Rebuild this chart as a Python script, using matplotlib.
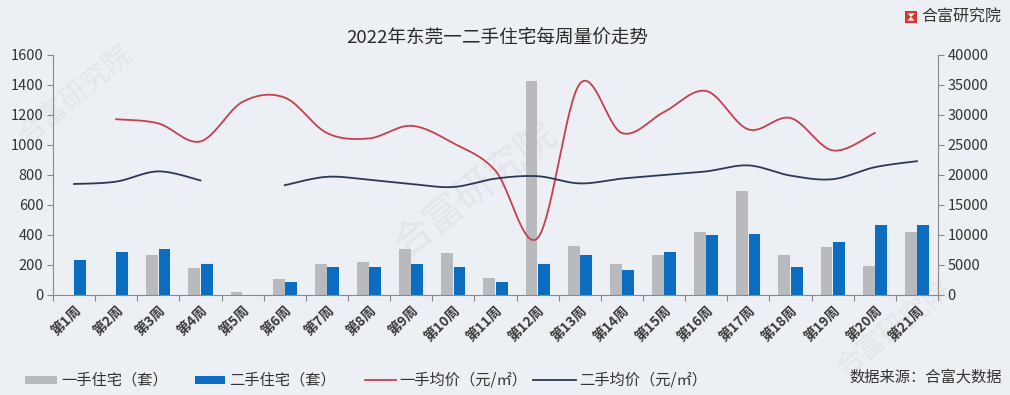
import numpy as np
import matplotlib
matplotlib.use("Agg")
import matplotlib.pyplot as plt
from matplotlib.patches import Rectangle, Polygon
from matplotlib.lines import Line2D

plt.rcParams['font.family'] = ['Noto Sans CJK SC', 'DejaVu Sans']

weeks = [f"第{i}周" for i in range(1, 22)]
new_units = [0, 0, 270, 180, 20, 105, 205, 220, 305, 280, 115, 1430, 330, 210, 265, 420, 695, 265, 320, 195, 420]
resale_units = [235, 290, 305, 210, 0, 85, 185, 185, 210, 185, 85, 205, 265, 170, 290, 400, 405, 185, 355, 470, 470]
new_price = [np.nan, 29300, 28600, 25600, 32200, 32900, 27000, 26100, 28200, 25300, 20700, 9500, 35200, 27000, 30500, 34000, 27600, 29500, 24100, 27000, np.nan]
resale_price = [18500, 18900, 20600, 19100, np.nan, 18300, 19700, 19200, 18500, 18000, 19400, 19800, 18600, 19400, 20000, 20600, 21600, 19900, 19300, 21300, 22300]

BG = '#eceff3'
GRAY = '#b9babe'
BLUE = '#0b6dbf'
RED = '#c4404f'
NAVY = '#2b3956'


def smooth_segments(xs, ys, n=30):
    """Excel-style smoothed line (Catmull-Rom) drawn per contiguous segment."""
    xs = np.asarray(xs, float)
    ys = np.asarray(ys, float)
    segs = []
    cur = []
    for x, y in zip(xs, ys):
        if np.isnan(y):
            if cur:
                segs.append(cur)
            cur = []
        else:
            cur.append((x, y))
    if cur:
        segs.append(cur)
    out = []
    for seg in segs:
        p = np.array(seg)
        if len(p) < 2:
            out.append((p[:, 0], p[:, 1]))
            continue
        ext = np.vstack([p[0], p, p[-1]])
        X, Y = [], []
        for i in range(1, len(ext) - 2):
            p0, p1, p2, p3 = ext[i - 1], ext[i], ext[i + 1], ext[i + 2]
            t = np.linspace(0, 1, n)[:, None]
            c1 = p1 + (p2 - p0) / 6
            c2 = p2 - (p3 - p1) / 6
            b = ((1 - t) ** 3) * p1 + 3 * ((1 - t) ** 2) * t * c1 + 3 * (1 - t) * t ** 2 * c2 + t ** 3 * p2
            X.extend(b[:, 0])
            Y.extend(b[:, 1])
        out.append((np.array(X), np.array(Y)))
    return out


fig = plt.figure(figsize=(10.10, 3.95), dpi=100, facecolor=BG)

# faint watermarks (behind the axes)
for (x, y, s, r) in [(0.075, 0.76, 20, 40), (0.47, 0.52, 28, 38), (0.885, 0.17, 20, 38)]:
    fig.text(x, y, "合富研究院", fontsize=s, color='#e2e5ea', rotation=r,
             ha='center', va='center', zorder=-5)

ax = fig.add_axes([53 / 1010, 1 - 295 / 395, 885 / 1010, 240 / 395])
ax.set_facecolor('none')
x = np.arange(len(weeks))
w = 0.28
ax.bar(x - 0.145, new_units, width=w, color=GRAY, zorder=2)
ax.bar(x + 0.145, resale_units, width=w, color=BLUE, zorder=2)
ax.set_ylim(0, 1600)
ax.set_yticks(range(0, 1601, 200))
ax.set_xlim(-0.5, len(weeks) - 0.5)
ax.set_xticks(np.arange(-0.5, len(weeks), 1.0))
ax.set_xticklabels([])
ax.set_xticks(x, minor=True)
ax.set_xticklabels(weeks, minor=True, rotation=45, ha='right', va='top',
                   rotation_mode='anchor', fontsize=10, fontweight='bold', color='#3a3a3a')
ax.tick_params(axis='x', which='major', length=4, color='#888888', direction='out')
ax.tick_params(axis='x', which='minor', length=0, pad=6)
ax.tick_params(axis='y', length=4, color='#888888', labelsize=10.5, labelcolor='#333333', pad=3)
for s in ['top', 'right']:
    ax.spines[s].set_visible(False)
for s in ['left', 'bottom']:
    ax.spines[s].set_color('#8a8a8a')

ax2 = ax.twinx()
ax2.set_ylim(0, 40000)
ax2.set_yticks(range(0, 40001, 5000))
ax2.tick_params(axis='y', length=4, color='#888888', labelsize=10.5, labelcolor='#333333', pad=3)
for s in ['top', 'left', 'bottom']:
    ax2.spines[s].set_visible(False)
ax2.spines['right'].set_color('#8a8a8a')
for xs, ys in smooth_segments(x, new_price):
    ax2.plot(xs, ys, color=RED, lw=1.3, zorder=3)
for xs, ys in smooth_segments(x, resale_price):
    ax2.plot(xs, ys, color=NAVY, lw=1.3, zorder=3)

# title
fig.text(497 / 1010, 1 - 38 / 395, "2022年东莞一二手住宅每周量价走势", fontsize=13.4,
         color='#2a2a2a', ha='center', va='center')

# logo
lx, ly, ls = 905 / 1010, 1 - 23 / 395, 12
lw_, lh_ = ls / 1010, ls / 395
fig.patches.append(Rectangle((lx, ly), lw_, lh_, transform=fig.transFigure,
                             facecolor='#d8352f', edgecolor='none'))
fig.patches.append(Polygon([(lx + lw_ * 0.2, ly + lh_ * 0.8), (lx + lw_ * 0.8, ly + lh_ * 0.8),
                            (lx + lw_ * 0.5, ly + lh_ * 0.5)], closed=True,
                           transform=fig.transFigure, facecolor='white', edgecolor='none'))
fig.patches.append(Polygon([(lx + lw_ * 0.2, ly + lh_ * 0.2), (lx + lw_ * 0.8, ly + lh_ * 0.2),
                            (lx + lw_ * 0.5, ly + lh_ * 0.5)], closed=True,
                           transform=fig.transFigure, facecolor='white', edgecolor='none'))
fig.text(921 / 1010, 1 - 17 / 395, "合富研究院", fontsize=11.5, color='#333333',
         ha='left', va='center')

# legend (manual)
yl = 1 - 380 / 395
LFS = 11
fig.patches.append(Rectangle((25 / 1010, yl - 4 / 395), 32 / 1010, 8 / 395,
                             transform=fig.transFigure, facecolor=GRAY, edgecolor='none'))
fig.text(61 / 1010, yl, "一手住宅（套）", fontsize=LFS, color='#333333', ha='left', va='center')
fig.patches.append(Rectangle((195 / 1010, yl - 4 / 395), 30 / 1010, 8 / 395,
                             transform=fig.transFigure, facecolor=BLUE, edgecolor='none'))
fig.text(229 / 1010, yl, "二手住宅（套）", fontsize=LFS, color='#333333', ha='left', va='center')
fig.lines.append(Line2D([365 / 1010, 396 / 1010], [yl, yl], transform=fig.transFigure,
                        color=RED, lw=1.3))
fig.text(399 / 1010, yl, "一手均价（元/㎡）", fontsize=LFS, color='#333333', ha='left', va='center')
fig.lines.append(Line2D([533 / 1010, 576 / 1010], [yl, yl], transform=fig.transFigure,
                        color=NAVY, lw=1.3))
fig.text(579 / 1010, yl, "二手均价（元/㎡）", fontsize=LFS, color='#333333', ha='left', va='center')
fig.text(1002 / 1010, 1 - 377 / 395, "数据来源：合富大数据", fontsize=LFS, color='#333333',
         ha='right', va='center')

fig.savefig("out.png", dpi=100, facecolor=BG)
